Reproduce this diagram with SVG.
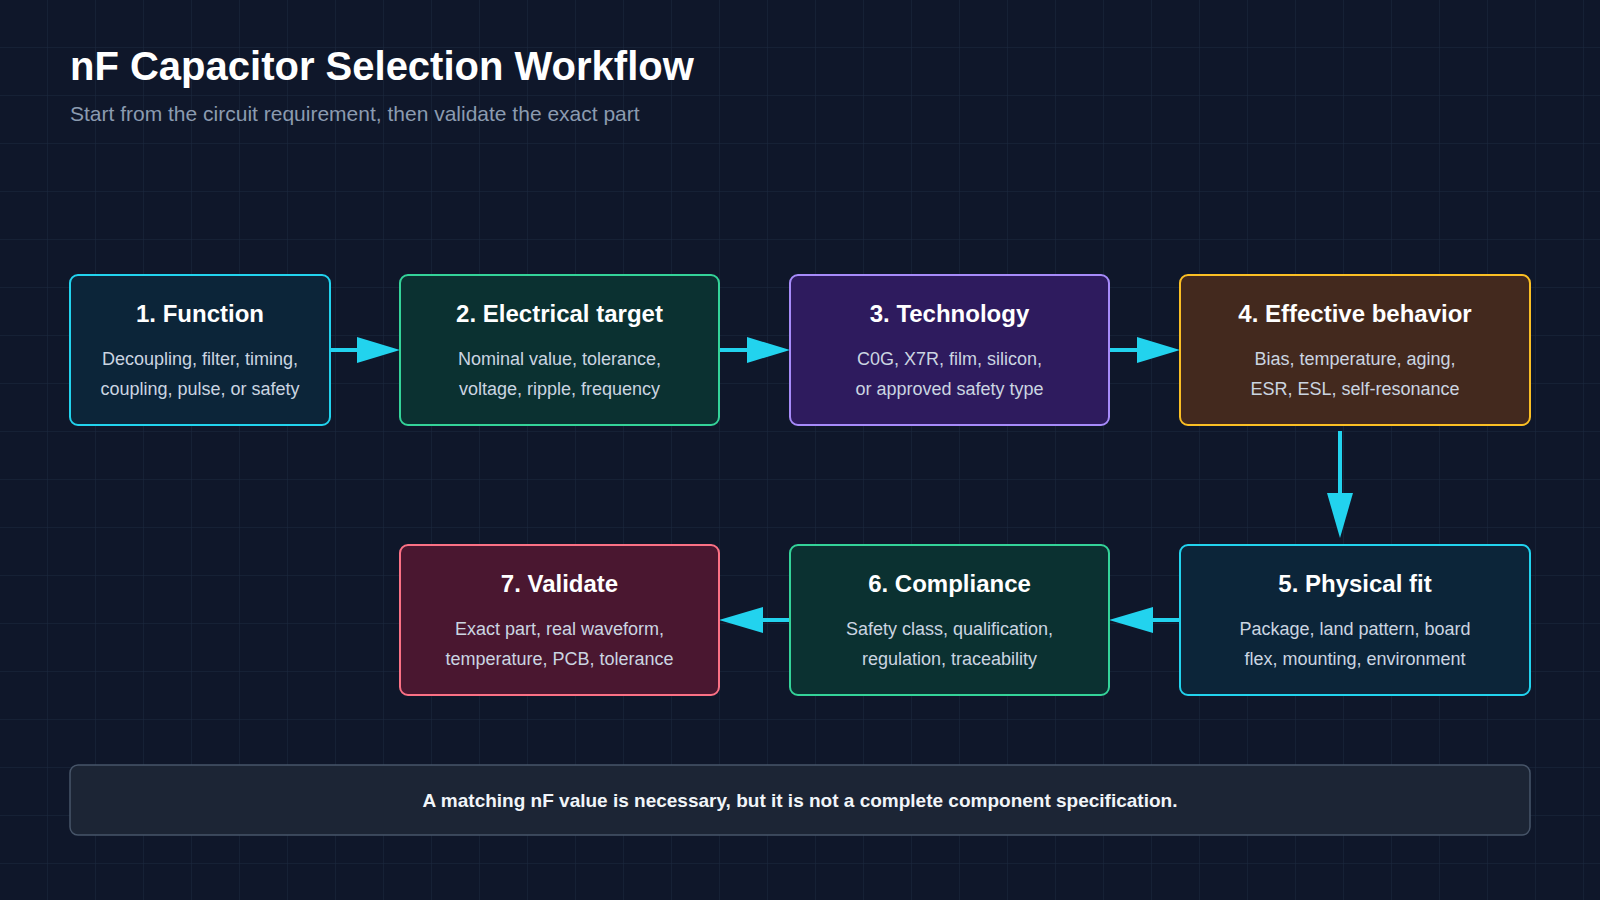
<svg xmlns="http://www.w3.org/2000/svg" width="1600" height="900" viewBox="0 0 1600 900">
<defs>
<pattern id="grid" width="48" height="48" patternUnits="userSpaceOnUse"><path d="M48 0V48H0" fill="none" stroke="#1c2940" stroke-width="1"/></pattern>
<marker id="ah" markerWidth="10" markerHeight="10" refX="10" refY="5" orient="auto" markerUnits="userSpaceOnUse" viewBox="0 0 10 10"><path d="M0 0L10 5L0 10Z" fill="#22d3ee"/></marker>
<style>
text{font-family:"Liberation Sans",Arial,sans-serif;text-anchor:middle}
.t{font-size:24px;font-weight:bold;fill:#ffffff}
.d{font-size:18px;fill:#cbd5e1}
.box{stroke-width:2}
.c{fill:#0c2539;stroke:#22d3ee}
.g{fill:#0b3131;stroke:#34d399}
.p{fill:#2e1b5e;stroke:#a78bfa}
.a{fill:#43291e;stroke:#fbbf24}
.r{fill:#4a1730;stroke:#fb7185}
.con line{stroke:#22d3ee;stroke-width:4}
</style>
</defs>
<rect width="1600" height="900" fill="#0f172a"/>
<rect width="1600" height="900" fill="url(#grid)"/>
<text x="70" y="80" style="text-anchor:start;font-size:40px;font-weight:bold;fill:#ffffff">nF Capacitor Selection Workflow</text>
<text x="70" y="121" style="text-anchor:start;font-size:21px;fill:#8b9bb0">Start from the circuit requirement, then validate the exact part</text>
<g class="con">
<path d="M330 350H360" stroke="#22d3ee" stroke-width="4"/><path d="M357 337L400 350L357 363Z" fill="#22d3ee"/>
<path d="M719 350H748" stroke="#22d3ee" stroke-width="4"/><path d="M747 337L790 350L747 363Z" fill="#22d3ee"/>
<path d="M1109 350H1140" stroke="#22d3ee" stroke-width="4"/><path d="M1137 337L1180 350L1137 363Z" fill="#22d3ee"/>
<path d="M1340 431V500" stroke="#22d3ee" stroke-width="4"/><path d="M1327 493L1340 538L1353 493Z" fill="#22d3ee"/>
<path d="M1180 620H1150" stroke="#22d3ee" stroke-width="4"/><path d="M1153 607L1109 620L1153 633Z" fill="#22d3ee"/>
<path d="M790 620H760" stroke="#22d3ee" stroke-width="4"/><path d="M763 607L719 620L763 633Z" fill="#22d3ee"/>
</g>
<g id="n1"><rect class="box c" x="70" y="275" width="260" height="150" rx="8"/><text class="t" x="200" y="322">1. Function</text><text class="d" x="200" y="365">Decoupling, filter, timing,</text><text class="d" x="200" y="395">coupling, pulse, or safety</text></g>
<g id="n2"><rect class="box g" x="400" y="275" width="319" height="150" rx="8"/><text class="t" x="559.5" y="322">2. Electrical target</text><text class="d" x="559.5" y="365">Nominal value, tolerance,</text><text class="d" x="559.5" y="395">voltage, ripple, frequency</text></g>
<g id="n3"><rect class="box p" x="790" y="275" width="319" height="150" rx="8"/><text class="t" x="949.5" y="322">3. Technology</text><text class="d" x="949.5" y="365">C0G, X7R, film, silicon,</text><text class="d" x="949.5" y="395">or approved safety type</text></g>
<g id="n4"><rect class="box a" x="1180" y="275" width="350" height="150" rx="8"/><text class="t" x="1355" y="322">4. Effective behavior</text><text class="d" x="1355" y="365">Bias, temperature, aging,</text><text class="d" x="1355" y="395">ESR, ESL, self-resonance</text></g>
<g id="n5"><rect class="box c" x="1180" y="545" width="350" height="150" rx="8"/><text class="t" x="1355" y="592">5. Physical fit</text><text class="d" x="1355" y="635">Package, land pattern, board</text><text class="d" x="1355" y="665">flex, mounting, environment</text></g>
<g id="n6"><rect class="box g" x="790" y="545" width="319" height="150" rx="8"/><text class="t" x="949.5" y="592">6. Compliance</text><text class="d" x="949.5" y="635">Safety class, qualification,</text><text class="d" x="949.5" y="665">regulation, traceability</text></g>
<g id="n7"><rect class="box r" x="400" y="545" width="319" height="150" rx="8"/><text class="t" x="559.5" y="592">7. Validate</text><text class="d" x="559.5" y="635">Exact part, real waveform,</text><text class="d" x="559.5" y="665">temperature, PCB, tolerance</text></g>
<g id="footer"><rect x="70" y="765" width="1460" height="70" rx="8" fill="#1c2535" stroke="#475569" stroke-width="1.5"/><text x="800" y="807" style="font-size:19px;font-weight:bold;fill:#f1f5f9">A matching nF value is necessary, but it is not a complete component specification.</text></g>
</svg>
